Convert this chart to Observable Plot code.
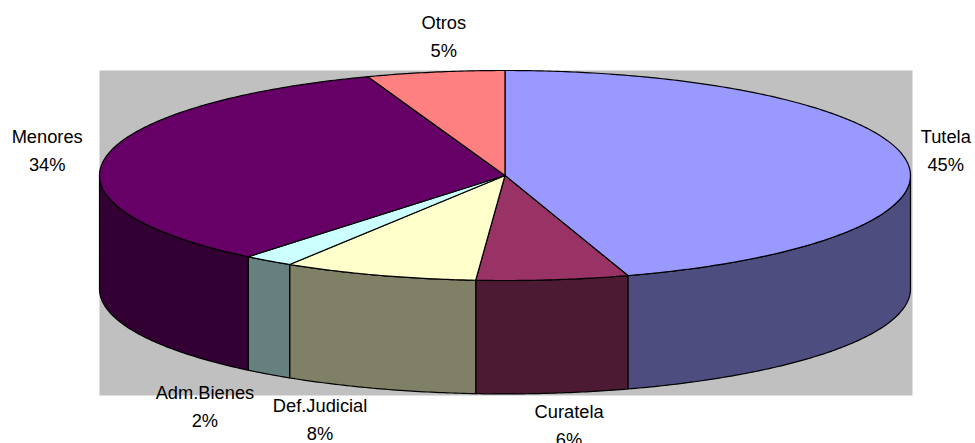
<!DOCTYPE html>
<html><head><meta charset="utf-8">
<script src="https://cdn.jsdelivr.net/npm/d3@7"></script>
<script src="https://cdn.jsdelivr.net/npm/@observablehq/plot@0.6"></script>
<style>html,body{margin:0;padding:0;background:#fff;overflow:hidden}</style>
</head><body><div id="chart"></div>
<script>
const categories = ["Tutela","Curatela","Def.Judicial","Adm.Bienes","Menores","Otros"];
const values = [45.1,6.05,7.76,2.0,33.6,5.49];
const topColors = ["#9999FF","#993366","#FFFFCC","#CCFFFF","#660066","#FF8080"];
const sideColors = ["#4D4D80","#4D1A33","#808066","#668080","#330033","#804040"];
// label centres in pie units (rim = ±1)
const labelX = [1.087,0.158,-0.456,-0.74,-1.129,-0.151];
const labelY = [0.265,-2.354,-2.297,-2.173,0.265,1.351];
const depth = 1.08;

const total = d3.sum(values);
let acc = 0;
const slices = categories.map((name,i)=>{
  const a0 = acc/total*2*Math.PI; acc += values[i];
  return {name,i,a0,a1:acc/total*2*Math.PI,value:values[i]};
});
const arc = (a0,a1)=>{
  const n = Math.max(2,Math.ceil((a1-a0)/0.01));
  return d3.range(n+1).map(k=>a0+(a1-a0)*k/n);
};
const pt = (a,z=0)=>({x:Math.sin(a),y:Math.cos(a)-z});
const tops = [], sides = [];
for (const s of slices) {
  const id = s.name;
  tops.push({x:0,y:0,id,color:topColors[s.i]});
  for (const a of arc(s.a0,s.a1)) tops.push({...pt(a),id,color:topColors[s.i]});
  tops.push({x:0,y:0,id,color:topColors[s.i]});
  const lo = Math.max(s.a0,Math.PI/2), hi = Math.min(s.a1,3*Math.PI/2);
  if (hi>lo) {
    const as = arc(lo,hi);
    const ring = [...as.map(a=>pt(a)),...as.slice().reverse().map(a=>pt(a,depth))];
    ring.push(ring[0]);
    for (const p of ring) sides.push({...p,id,color:sideColors[s.i]});
  }
}
const labels = slices.map(s=>({x:labelX[s.i],y:labelY[s.i],
  text:`${s.name}\n${Math.round(s.value)}%`}));

const plot = Plot.plot({
  width:975,height:443,
  marginLeft:99,marginRight:63,marginTop:70,marginBottom:48,
  x:{axis:null,domain:[-1,1.005]},
  y:{axis:null,domain:[-2.095,1]},
  color:{type:"identity"},
  style:{fontFamily:"'Liberation Sans',Arial,sans-serif",background:"#fff"},
  marks:[
    Plot.frame({fill:"#C0C0C0",stroke:"none"}),
    Plot.line(sides,{x:"x",y:"y",z:"id",fill:"color",stroke:"#000",strokeWidth:1.2}),
    Plot.line(tops,{x:"x",y:"y",z:"id",fill:"color",stroke:"#000",strokeWidth:1.2}),
    Plot.text(labels,{x:"x",y:"y",text:"text",fontSize:18.3,lineHeight:1.55,fill:"#000"})
  ]
});
document.getElementById("chart").append(plot);
</script></body></html>
